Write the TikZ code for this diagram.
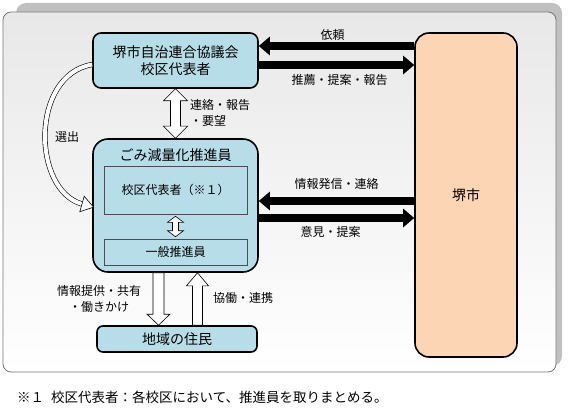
\documentclass[tikz,border=0pt]{standalone}
\usepackage{fontspec}
\setmainfont{Noto Sans CJK JP}
\usetikzlibrary{arrows.meta,positioning,calc}
\definecolor{boxblue}{RGB}{183,222,232}
\definecolor{citypeach}{RGB}{252,213,181}
\definecolor{framegray}{RGB}{120,120,120}
\definecolor{shadowgray}{RGB}{192,192,192}

\begin{document}
\begin{tikzpicture}[x=1pt, y=-1pt, >={Triangle[length=11pt,width=18pt]},
  org/.style={draw=black, fill=boxblue, line width=1.6pt, rounded corners=#1, align=center,
              font=\fontsize{14}{17}\selectfont},
  org/.default=8pt,
  inbox/.style={draw=black!70, fill=boxblue, line width=0.6pt, minimum width=143pt,
                font=\fontsize{12}{14}\selectfont},
  lbl/.style={font=\fontsize{12}{16}\selectfont, inner sep=1pt},
  thickarrow/.style={->, line width=7.5pt},
  blockarrow/.style n args={3}{draw=black, fill=white, line width=0.6pt,
    to path={let \p1=(\tikztostart), \p2=(\tikztotarget), \n1={sign(\y2-\y1)} in
      ({\x1-#1},\y1) -- ({\x1-#1},{\y2-(\n1)*#3}) -- ({\x1-#2},{\y2-(\n1)*#3}) -- (\x1,\y2)
      -- ({\x1+#2},{\y2-(\n1)*#3}) -- ({\x1+#1},{\y2-(\n1)*#3}) -- ({\x1+#1},\y1) -- cycle}},
  blockarrowdbl/.style n args={3}{draw=black, fill=white, line width=0.6pt,
    to path={let \p1=(\tikztostart), \p2=(\tikztotarget), \n1={sign(\y2-\y1)} in
      (\x1,\y1) -- ({\x1+#2},{\y1+(\n1)*#3}) -- ({\x1+#1},{\y1+(\n1)*#3})
      -- ({\x1+#1},{\y2-(\n1)*#3}) -- ({\x1+#2},{\y2-(\n1)*#3}) -- (\x1,\y2)
      -- ({\x1-#2},{\y2-(\n1)*#3}) -- ({\x1-#1},{\y2-(\n1)*#3})
      -- ({\x1-#1},{\y1+(\n1)*#3}) -- ({\x1-#2},{\y1+(\n1)*#3}) -- cycle}}]
\useasboundingbox (0,0) rectangle (568,409);
% frame
\fill[shadowgray, rounded corners=10pt] (16,3) rectangle (562,366);
\draw[framegray, line width=0.8pt, rounded corners=8pt, top color=black!9, bottom color=white] (3,12) rectangle (556,372);
% boxes
\node[org, minimum width=165pt, minimum height=55pt] (assoc) at (175.5,60.5) {堺市自治連合協議会\\校区代表者};
\node[org=15pt, minimum width=165pt, minimum height=133pt] (prom) at (175.5,205.5) {};
\node[font=\fontsize{14}{17}\selectfont] (promttl) at (175.5,155) {ごみ減量化推進員};
\node[inbox, minimum height=48pt] (rep) at (175.5,190) {校区代表者（※１）};
\node[inbox, minimum height=26pt] (gen) at (175.5,252) {一般推進員};
\node[org=6pt, minimum width=160pt, minimum height=26pt] (resid) at (177,339) {地域の住民};
\node[org=14pt, fill=citypeach, minimum width=102pt, minimum height=324pt] (city) at (466,195) {堺市};
% city links
\draw[thickarrow] (city.west |- 0,46) -- node[lbl, yshift=11pt, xshift=-4pt]{依頼} (assoc.east |- 0,46);
\draw[thickarrow] (assoc.east |- 0,65) -- node[lbl, yshift=-15pt, xshift=3pt]{推薦・提案・報告} (city.west |- 0,65);
\draw[thickarrow] (city.west |- 0,201) -- node[lbl, yshift=17pt]{情報発信・連絡} (prom.east |- 0,201);
\draw[thickarrow] (prom.east |- 0,218) -- node[lbl, yshift=-14pt, xshift=-6pt]{意見・提案} (city.west |- 0,218);
% vertical links
\draw[blockarrowdbl={5pt}{12pt}{12pt}] (assoc.south) to (prom.north);
\node[lbl, align=left, anchor=west] (abl) at (189,113) {連絡・報告\\・要望};
\draw[blockarrowdbl={3pt}{8pt}{6pt}] ([yshift=-2pt]rep.south) to ([yshift=2pt]gen.north);
\draw[blockarrow={5.5pt}{11.5pt}{11pt}] ([xshift=-17pt]prom.south) to ([xshift=-17pt]resid.north);
\draw[blockarrow={5pt}{11pt}{13pt}] ([xshift=20.5pt]resid.north) to ([xshift=20.5pt]prom.south);
\node[lbl, align=center] (infl) at (99,299) {情報提供・共有\\・働きかけ};
\node[lbl] (coopl) at (243,298) {協働・連携};
% election
\coordinate (selbase) at (82,204);
\draw[line width=0.6pt, double=white, double distance=4pt] ($(assoc.west)+(0,4)$) .. controls (30,75) and (32,190) .. (selbase);
\draw[line width=0.6pt, fill=white] (79.8,211.7) -- (93.6,207.2) -- (84.2,196.3) -- cycle;
\node[lbl] (sell) at (67,137) {選出};
% note
\node[font=\fontsize{13.5}{16}\selectfont, anchor=west, inner sep=0pt] (note) at (17,397) {※１\hspace{7pt}校区代表者：各校区において、推進員を取りまとめる。};
\end{tikzpicture}
\end{document}
